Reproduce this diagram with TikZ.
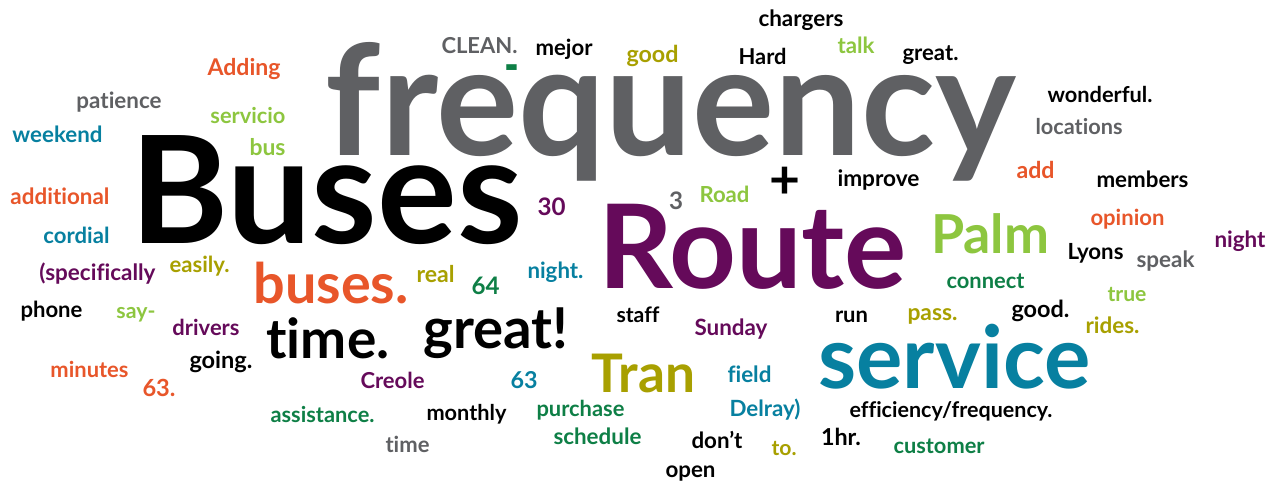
\documentclass[tikz,border=0pt]{standalone}
\usepackage{fontspec}
\usepackage{graphicx}
\setmainfont{Lato}[Ligatures={NoCommon,NoDiscretionary,NoContextual}]
\definecolor{cwgray}{HTML}{5F6063}
\definecolor{cwpurple}{HTML}{650A5A}
\definecolor{cwteal}{HTML}{0780A0}
\definecolor{cworange}{HTML}{E8562A}
\definecolor{cwlgreen}{HTML}{8DC63F}
\definecolor{cwolive}{HTML}{A8A000}
\definecolor{cwdgreen}{HTML}{0E7F46}
\newcommand{\cwfit}[2]{\resizebox{#1pt}{!}{#2}}
\tikzset{
  cw/.style={anchor=base, inner sep=0pt, outer sep=0pt, font=\bfseries\fontsize{20}{24}\selectfont},
  cwc/.style={cw, anchor=center},
  kgray/.style={text=cwgray},
  kblack/.style={text=black},
  kpurple/.style={text=cwpurple},
  kteal/.style={text=cwteal},
  korange/.style={text=cworange},
  klgreen/.style={text=cwlgreen},
  kolive/.style={text=cwolive},
  kdgreen/.style={text=cwdgreen}
}
\begin{document}
\begin{tikzpicture}[x=1pt,y=-1pt]
\fill[white] (0,0) rectangle (1283,485);
\useasboundingbox (0,0) rectangle (1283,485);
% big words
\node[cw,kgray] (frequency) at (671,155) {\cwfit{690}{frequency}};
\node[cw,kblack] (Buses) at (326.5,243) {\cwfit{392}{Buses}};
\node[cw,kpurple] (Route) at (752.5,288) {\cwfit{309}{Route}};
\node[cw,kteal] (service) at (954.5,388) {\cwfit{272}{service}};
\node[cw,klgreen] (Palm) at (990,253) {\cwfit{118}{Palm}};
\node[cw,korange] (busesdot) at (331,303) {\cwfit{155}{buses.}};
\node[cw,kblack] (timedot) at (328,358) {\cwfit{123}{time.}};
\node[cw,kblack] (greatex) at (496,348) {\cwfit{145}{great!}};
\node[cw,kolive] (Tran) at (643.5,392) {\cwfit{103}{Tran}};
% small words
\node[cw,kblack] (chargers) at (801,26) {\cwfit{85}{chargers}};
\node[cw,kgray] (CLEAN) at (479.5,53) {\cwfit{76}{CLEAN.}};
\node[cw,kblack] (mejor) at (564,55) {\cwfit{57}{mejor}};
\node[cw,kolive] (good) at (652.5,62) {\cwfit{52}{good}};
\node[cw,kblack] (Hard) at (762.5,64) {\cwfit{48}{Hard}};
\node[cw,klgreen] (talk) at (856,53) {\cwfit{37}{talk}};
\node[cw,kblack] (greatdot) at (930.5,60) {\cwfit{56}{great.}};
\node[cw,korange] (Adding) at (244,75) {\cwfit{73}{Adding}};
\node[cw,kdgreen] (dash) at (511.5,84) {\scalebox{2}[2.8]{-}};
\node[cw,kgray] (patience) at (119,108) {\cwfit{85}{patience}};
\node[cw,klgreen] (servicio) at (248,123) {\cwfit{75}{servicio}};
\node[cw,kblack] (wonderful) at (1100,102) {\cwfit{105}{wonderful.}};
\node[cw,kgray] (locations) at (1079,134) {\cwfit{87}{locations}};
\node[cw,kteal] (weekend) at (57.5,142) {\cwfit{90}{weekend}};
\node[cw,klgreen] (bus) at (267.5,155) {\cwfit{36}{bus}};
\node[cwc,kblack] (plus) at (784.5,182.5) {\cwfit{31}{+}};
\node[cw,kblack] (improve) at (878.5,186) {\cwfit{82}{improve}};
\node[cw,korange] (add) at (1035.5,178) {\cwfit{38}{add}};
\node[cw,kblack] (members) at (1142.5,187) {\cwfit{92}{members}};
\node[cw,korange] (additional) at (60,204) {\cwfit{99}{additional}};
\node[cw,kpurple] (thirty) at (551.5,215) {\cwfit{28}{30}};
\node[cw,kgray] (three) at (676,209) {\cwfit{14}{3}};
\node[cw,klgreen] (Road) at (724.5,202) {\cwfit{50}{Road}};
\node[cw,korange] (opinion) at (1127.5,225) {\cwfit{74}{opinion}};
\node[cw,kteal] (cordial) at (76.5,243) {\cwfit{66}{cordial}};
\node[cw,kpurple] (night) at (1240,247) {\cwfit{51}{night}};
\node[cw,kblack] (Lyons) at (1095.5,259) {\cwfit{56}{Lyons}};
\node[cw,kgray] (speak) at (1165.5,267) {\cwfit{58}{speak}};
\node[cw,kpurple] (specifically) at (97.5,280) {\cwfit{116}{(specifically}};
\node[cw,kolive] (easily) at (199.5,272) {\cwfit{60}{easily.}};
\node[cw,kolive] (real) at (435.5,282) {\cwfit{38}{real}};
\node[cw,kteal] (nightdot) at (555.5,278) {\cwfit{56}{night.}};
\node[cw,kdgreen] (sixtyfour) at (485.5,294) {\cwfit{28}{64}};
\node[cw,kdgreen] (connect) at (985.5,288) {\cwfit{78}{connect}};
\node[cw,klgreen] (true) at (1127,301) {\cwfit{39}{true}};
\node[cw,kblack] (phone) at (51.5,317) {\cwfit{62}{phone}};
\node[cw,klgreen] (say) at (136,318) {\cwfit{39}{say-}};
\node[cw,kblack] (staff) at (638,322) {\cwfit{43}{staff}};
\node[cw,kpurple] (Sunday) at (731,335) {\cwfit{73}{Sunday}};
\node[cw,kblack] (run) at (851.5,322) {\cwfit{33}{run}};
\node[cw,kolive] (pass) at (932.5,320) {\cwfit{50}{pass.}};
\node[cw,kblack] (gooddot) at (1040.5,317) {\cwfit{58}{good.}};
\node[cw,kolive] (rides) at (1112.5,333) {\cwfit{54}{rides.}};
\node[cw,kpurple] (drivers) at (206,335) {\cwfit{67}{drivers}};
\node[cw,kblack] (going) at (221,368) {\cwfit{63}{going.}};
\node[cw,korange] (minutes) at (89.5,377) {\cwfit{78}{minutes}};
\node[cw,korange] (sixtythreedot) at (159,396) {\cwfit{33}{63.}};
\node[cw,kpurple] (Creole) at (392.5,388) {\cwfit{64}{Creole}};
\node[cw,kteal] (sixtythree) at (524,388) {\cwfit{27}{63}};
\node[cw,kteal] (field) at (749.5,382) {\cwfit{44}{field}};
\node[cw,kdgreen] (assistance) at (322.5,422) {\cwfit{104}{assistance.}};
\node[cw,kblack] (monthly) at (466.5,420) {\cwfit{80}{monthly}};
\node[cw,kdgreen] (purchase) at (580.5,416) {\cwfit{88}{purchase}};
\node[cw,kteal] (Delray) at (765,416) {\cwfit{71}{Delray)}};
\node[cw,kblack] (efficiency) at (951,417) {\cwfit{203}{efficiency/frequency.}};
\node[cw,kgray] (time) at (407.5,452) {\cwfit{44}{time}};
\node[cw,kdgreen] (schedule) at (597.5,444) {\cwfit{88}{schedule}};
\node[cw,kblack] (dont) at (717,448) {\cwfit{51}{don’t}};
\node[cw,kolive] (to) at (784,455) {\cwfit{25}{to.}};
\node[cw,kblack] (onehr) at (841,445) {\cwfit{40}{1hr.}};
\node[cw,kdgreen] (customer) at (939,453) {\cwfit{91}{customer}};
\node[cw,kblack] (open) at (690.5,477) {\cwfit{50}{open}};
\end{tikzpicture}
\end{document}
